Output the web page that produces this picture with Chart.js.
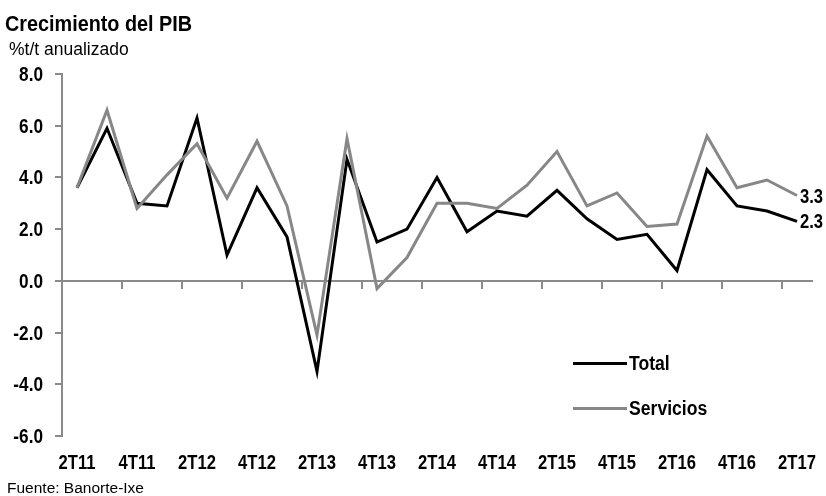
<!DOCTYPE html>
<html lang="es">
<head>
<meta charset="UTF-8">
<title>Crecimiento del PIB</title>
<script src="https://cdn.jsdelivr.net/npm/chart.js"></script>
<style>
    body { margin: 0; background: #fff; }
    #wrap { position: relative; width: 826px; height: 496px; overflow: hidden;
            font-family: "Liberation Sans", Arial, sans-serif; }
    #chart { position: absolute; left: 0; top: 0; }
    .txt { position: absolute; white-space: nowrap; line-height: 1; color: #000; transform-origin: left center; }
    #title { left: 5px; top: 13px; font-size: 22px; font-weight: bold; transform: scaleX(0.9); }
    #subtitle { left: 9px; top: 41px; font-size: 17.5px; }
    #source { left: 7px; top: 480px; font-size: 15.5px; }
    .leg { position: absolute; left: 573px; height: 26px; display: flex; align-items: center; }
    .leg span.ln { display: inline-block; width: 54px; height: 3px; margin-right: 2px; }
    .leg span.lb { font-size: 20px; font-weight: bold; display: inline-block; transform: scaleX(0.88); transform-origin: left center; }
</style>
</head>
<body>
<div id="wrap">
    <canvas id="chart" width="826" height="496"></canvas>
    <div class="txt" id="title">Crecimiento del PIB</div>
    <div class="txt" id="subtitle">%t/t anualizado</div>
    <div class="txt" id="source">Fuente: Banorte-Ixe</div>
    <div class="leg" style="top:350px"><span class="ln" style="background:#000"></span><span class="lb">Total</span></div>
    <div class="leg" style="top:395px"><span class="ln" style="background:#878787"></span><span class="lb">Servicios</span></div>
</div>
<script>
// trimestres 2T11 .. 2T17
const quarters = ['2T11','3T11','4T11','1T12','2T12','3T12','4T12','1T13','2T13','3T13','4T13','1T14',
                  '2T14','3T14','4T14','1T15','2T15','3T15','4T15','1T16','2T16','3T16','4T16','1T17','2T17'];
const total =     [3.6, 5.9, 3.0, 2.9, 6.3, 1.0, 3.6, 1.7, -3.5, 4.7, 1.5, 2.0,
                   4.0, 1.9, 2.7, 2.5, 3.5, 2.4, 1.6, 1.8, 0.4, 4.3, 2.9, 2.7, 2.3];
const servicios = [3.6, 6.6, 2.8, 4.1, 5.3, 3.2, 5.4, 2.9, -2.1, 5.5, -0.3, 0.9,
                   3.0, 3.0, 2.8, 3.7, 5.0, 2.9, 3.4, 2.1, 2.2, 5.6, 3.6, 3.9, 3.3];
const yTicks = [-6, -4, -2, 0, 2, 4, 6, 8];

const axisGray = '#8a8a8a';
const boldFont = 'bold 20px "Liberation Sans", Arial, sans-serif';

// texto estrecho (la fuente original es tipo Arial Narrow)
function narrowText(ctx, txt, x, y, align, sx) {
    ctx.save();
    ctx.translate(x, y);
    ctx.scale(sx, 1);
    ctx.textAlign = align;
    ctx.fillText(txt, 0, 0);
    ctx.restore();
}

// etiquetas de ejes y valores finales
const narrowLabels = {
    id: 'narrowLabels',
    afterDraw(chart) {
        const ctx = chart.ctx;
        const xs = chart.scales.x, ys = chart.scales.y;
        ctx.save();
        ctx.font = boldFont;
        ctx.fillStyle = '#000';
        ctx.textBaseline = 'alphabetic';
        quarters.forEach((q, i) => {
            if (i % 2 === 0) narrowText(ctx, q, xs.getPixelForTick(i), xs.top + 33, 'center', 0.83);
        });
        yTicks.forEach(v => {
            narrowText(ctx, v.toFixed(1), ys.right - 19, ys.getPixelForValue(v) + 7, 'right', 0.86);
        });
        chart.data.datasets.forEach((ds, i) => {
            const pts = chart.getDatasetMeta(i).data;
            const last = pts[pts.length - 1];
            narrowText(ctx, ds.data[ds.data.length - 1].toFixed(1), last.x + 3, last.y + 7, 'left', 0.83);
        });
        ctx.restore();
    }
};

new Chart(document.getElementById('chart'), {
    type: 'line',
    data: {
        labels: quarters,
        datasets: [
            { label: 'Total', data: total, borderColor: '#000', borderWidth: 3, pointRadius: 0, tension: 0, order: 1 },
            { label: 'Servicios', data: servicios, borderColor: '#878787', borderWidth: 3, pointRadius: 0, tension: 0, order: 0 }
        ]
    },
    options: {
        responsive: false,
        animation: false,
        layout: { padding: { top: 74, right: 14, left: 0, bottom: 0 } },
        plugins: { legend: { display: false }, tooltip: { enabled: false } },
        scales: {
            x: {
                type: 'category',
                offset: true,
                grid: { display: false },
                border: { display: false },
                ticks: { display: false, autoSkip: false },
                afterFit: s => { s.height = 60; }
            },
            x0: {
                type: 'category',
                position: { y: 0 },
                offset: true,
                grid: {
                    offset: true, drawOnChartArea: false, tickLength: 7, lineWidth: 2,
                    color: c => (c.index % 2 === 0 && c.index > 0 && c.index < quarters.length ? axisGray : 'rgba(0,0,0,0)')
                },
                border: { display: true, color: axisGray, width: 2 },
                ticks: { display: false, autoSkip: false }
            },
            y: {
                min: -6, max: 8,
                afterBuildTicks: s => { s.ticks = yTicks.map(v => ({ value: v })); },
                grid: { drawOnChartArea: false, tickLength: 7, color: axisGray, lineWidth: 2 },
                border: { display: true, color: axisGray, width: 2 },
                ticks: { display: false },
                afterFit: s => { s.width = 62; }
            }
        }
    },
    plugins: [narrowLabels]
});
</script>
</body>
</html>
